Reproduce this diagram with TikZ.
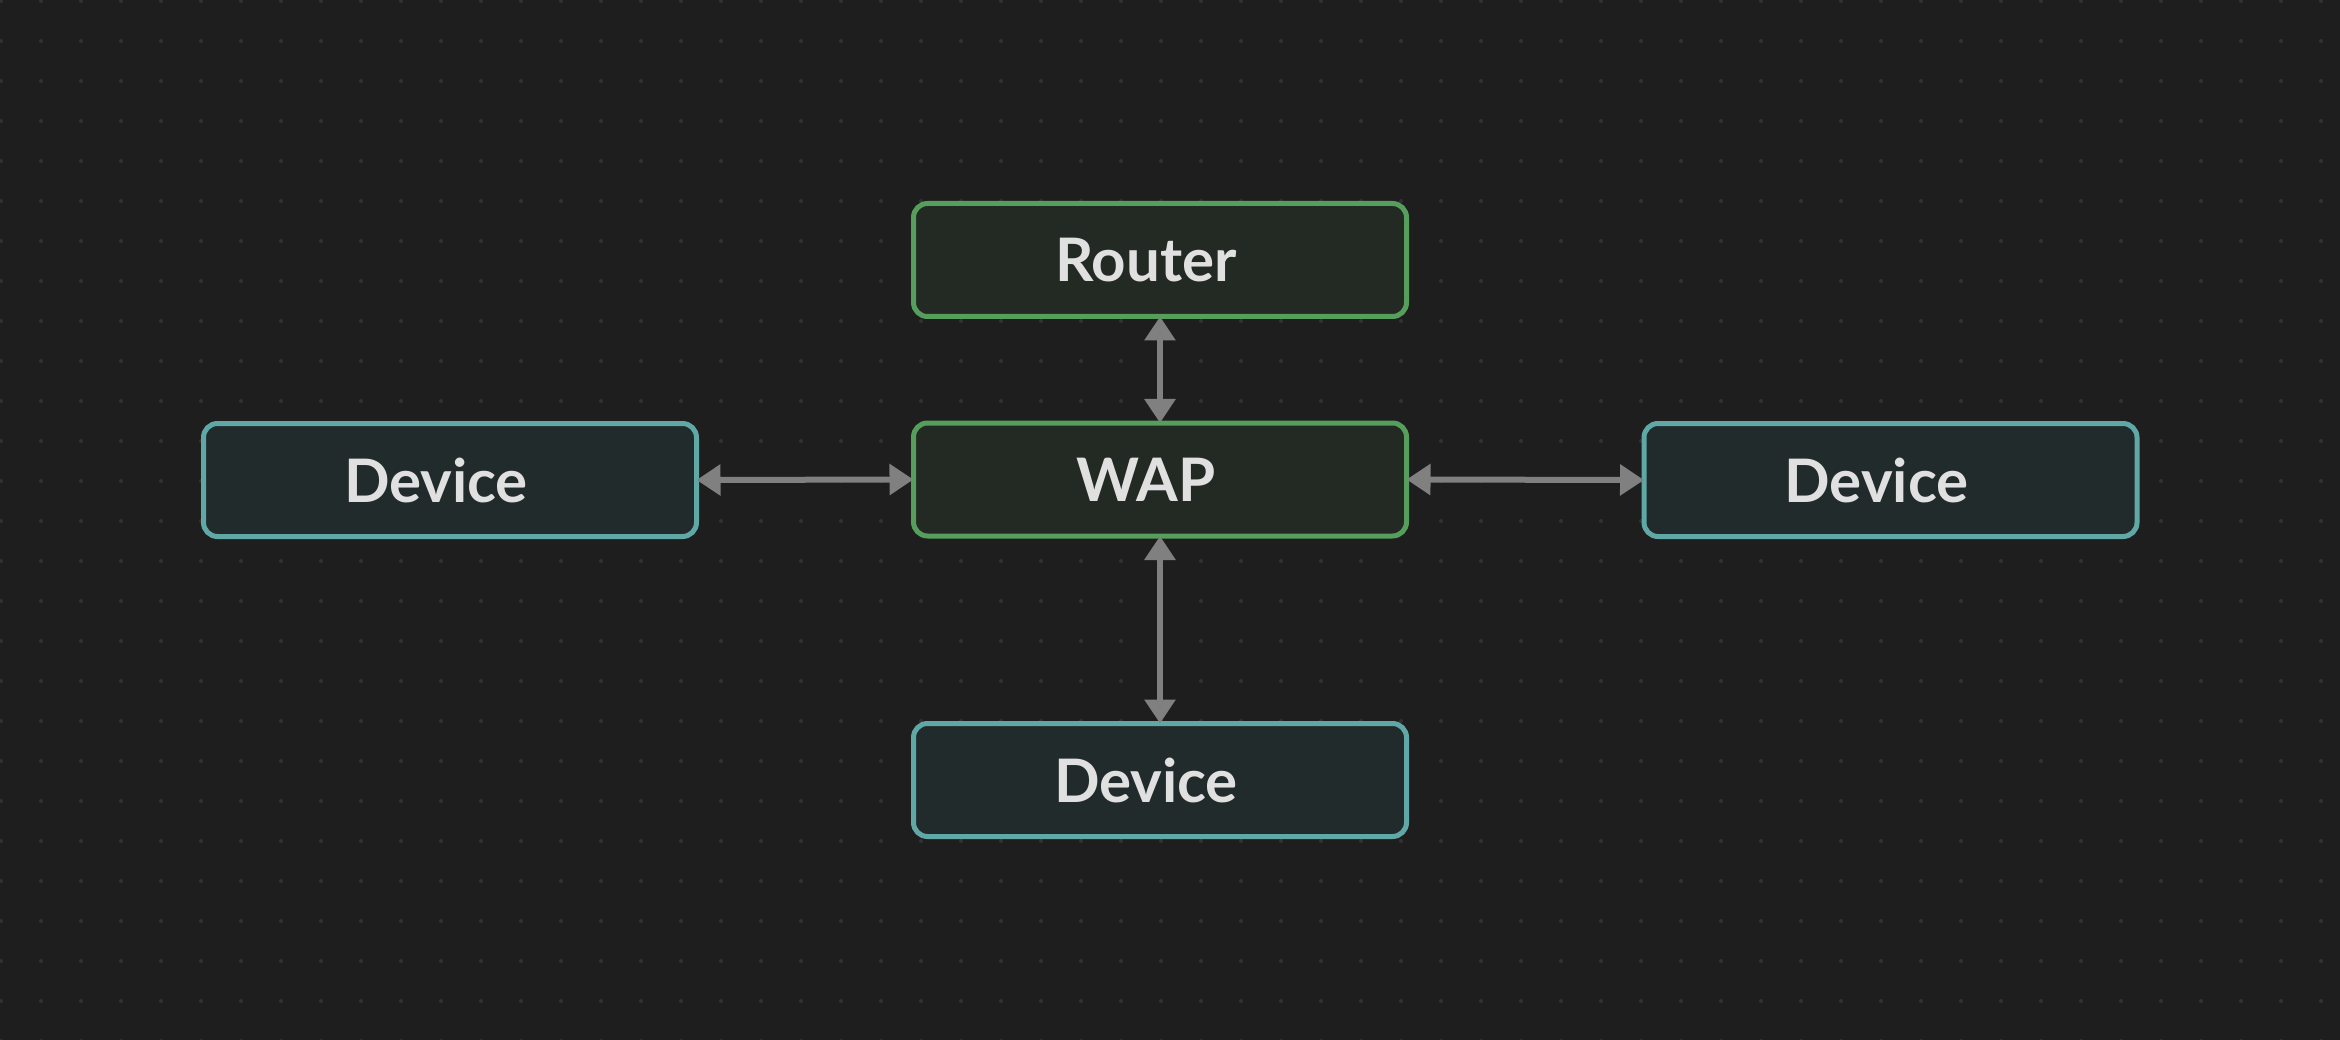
\documentclass[tikz,border=0pt]{standalone}
\usepackage{fontspec}
\setmainfont{Lato}
\usetikzlibrary{arrows.meta}
\definecolor{bgc}{HTML}{1E1E1E}
\definecolor{dotc}{HTML}{323232}
\definecolor{greenc}{HTML}{569E5B}
\definecolor{greenf}{HTML}{232923}
\definecolor{tealc}{HTML}{5FA8A6}
\definecolor{tealf}{HTML}{222B2B}
\definecolor{txtc}{HTML}{E0E0E0}
\definecolor{arrc}{HTML}{808080}
\tikzset{
  boxbase/.style={rounded corners=14pt, line width=5pt, minimum width=493pt, minimum height=113pt,
    inner sep=0pt, text height=44pt, text depth=0pt, text=txtc,
    font=\fontsize{60}{60}\selectfont\bfseries},
  greenbox/.style={boxbase, draw=greenc, fill=greenf},
  tealbox/.style={boxbase, draw=tealc, fill=tealf},
  link/.style={draw=arrc, line width=6pt,
    {Triangle[length=24pt,width=30pt]}-{Triangle[length=24pt,width=30pt]}, shorten <=-2.5pt, shorten >=-2.5pt}
}
\newcommand{\lbl}[1]{\hspace*{-28pt}#1}
\begin{document}
\begin{tikzpicture}[x=1pt,y=-1pt]
\fill[bgc] (0,0) rectangle (2340,1040);
\useasboundingbox (0,0) rectangle (2340,1040);
\foreach \i in {0,...,58} {
  \foreach \j in {0,...,26} {
    \fill[dotc] (1+40*\i,1+40*\j) circle (2pt);
  }
}
\node[greenbox] (router) at (1160,260) {\lbl{Router}};
\node[greenbox] (wap) at (1160,479.5) {\lbl{WAP}};
\node[tealbox] (devl) at (450,480) {\lbl{Device}};
\node[tealbox] (devr) at (1890.5,480) {\lbl{Device}};
\node[tealbox] (devb) at (1160,780) {\lbl{Device}};
\draw[link] (router.south) -- (wap.north);
\draw[link] (wap.south) -- (devb.north);
\draw[link] (devl.east) -- (wap.west);
\draw[link] (wap.east) -- (devr.west);
\end{tikzpicture}
\end{document}
